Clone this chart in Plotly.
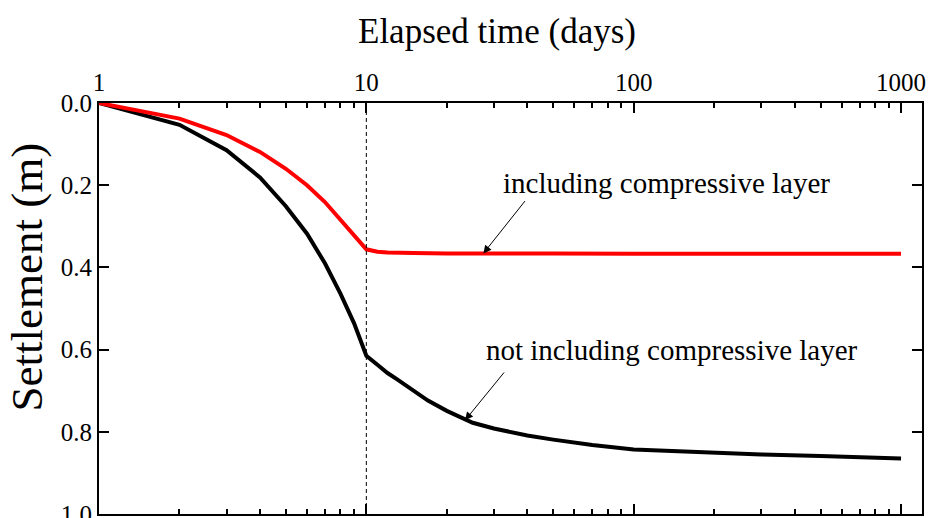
import numpy as np
import plotly.graph_objects as go

# Data
days_black = [1, 2, 3, 4, 5, 6, 7, 8, 9, 10, 11, 12, 13, 15, 17, 20, 25, 30, 40, 50,
              70, 100, 150, 200, 300, 500, 700, 1000]
settle_black = [0.0, 0.053, 0.115, 0.181, 0.251, 0.318, 0.39, 0.464, 0.536, 0.615,
                0.637, 0.657, 0.672, 0.700, 0.724, 0.749, 0.778, 0.792, 0.809, 0.819,
                0.832, 0.843, 0.848, 0.851, 0.855, 0.859, 0.862, 0.865]
days_red = [1, 2, 3, 4, 5, 6, 7, 8, 9, 10, 11, 12, 15, 20, 50, 100, 1000]
settle_red = [0.0, 0.038, 0.078, 0.119, 0.16, 0.2, 0.241, 0.285, 0.322, 0.356,
              0.362, 0.364, 0.365, 0.366, 0.366, 0.367, 0.367]

x_ticks = [1, 10, 100, 1000]
y_ticks = [0.0, 0.2, 0.4, 0.6, 0.8, 1.0]
minor_ticks = [m * d for d in (1, 10, 100) for m in range(2, 10)]

FONT = "Liberation Serif"

fig = go.Figure()
fig.add_trace(go.Scatter(x=days_black, y=settle_black, mode="lines",
                         line=dict(color="black", width=4), showlegend=False))
fig.add_trace(go.Scatter(x=days_red, y=settle_red, mode="lines",
                         line=dict(color="#ff0000", width=4), showlegend=False))

# dashed vertical line at 10 days
fig.add_shape(type="line", xref="x", yref="paper", x0=10, x1=10, y0=0, y1=1,
              line=dict(color="black", width=1, dash="4px,3px"))

fig.update_xaxes(type="log", side="top", range=[0, np.log10(1198)],
                 tickvals=x_ticks, ticktext=[str(v) for v in x_ticks],
                 ticks="inside", ticklen=10, tickwidth=2, tickcolor="black",
                 showline=True, linewidth=2, linecolor="black", mirror="ticks",
                 showgrid=False, zeroline=False, automargin=False,
                 tickfont=dict(family=FONT, size=25, color="black"),
                 minor=dict(tickvals=minor_ticks, ticks="inside", ticklen=5,
                            tickwidth=2, tickcolor="black", showgrid=False))
fig.update_yaxes(range=[1.0, 0.0], tickvals=y_ticks,
                 ticktext=[f"{v:.1f}" for v in y_ticks],
                 ticks="inside", ticklen=10, tickwidth=2, tickcolor="black",
                 showline=True, linewidth=2, linecolor="black", mirror="ticks",
                 showgrid=False, zeroline=False, ticklabeloverflow="allow",
                 automargin=False,
                 tickfont=dict(family=FONT, size=25, color="black"))

ann_font = dict(family=FONT, size=29, color="black")
fig.add_annotation(text="Elapsed time (days)", xref="paper", yref="paper",
                   x=0.4838, y=1.174, xanchor="center", yanchor="middle",
                   showarrow=False,
                   font=dict(family=FONT, size=35, color="black"))
fig.add_annotation(text="Settlement (m)", xref="paper", yref="paper",
                   x=-0.088, y=0.577, xanchor="center", yanchor="middle",
                   textangle=-90, showarrow=False,
                   font=dict(family=FONT, size=45, color="black"))
fig.add_annotation(text="including compressive layer", xref="x", yref="y",
                   x=2.1234, y=0.195, showarrow=False, font=ann_font)
fig.add_annotation(text="not including compressive layer", xref="x", yref="y",
                   x=2.142, y=0.601, showarrow=False, font=ann_font)
# arrows
fig.add_annotation(text="", xref="x", yref="y", axref="x", ayref="y",
                   x=np.log10(27.4), y=0.366, ax=np.log10(39.6), ay=0.235,
                   showarrow=True, arrowhead=2, arrowsize=1.6, arrowwidth=1,
                   arrowcolor="black")
fig.add_annotation(text="", xref="x", yref="y", axref="x", ayref="y",
                   x=np.log10(23.4), y=0.772, ax=np.log10(33.1), ay=0.652,
                   showarrow=True, arrowhead=2, arrowsize=1.6, arrowwidth=1,
                   arrowcolor="black")

fig.update_layout(width=928, height=518, plot_bgcolor="white", paper_bgcolor="white",
                  margin=dict(l=99, r=6, t=103, b=4))

fig.write_html("out.html")
